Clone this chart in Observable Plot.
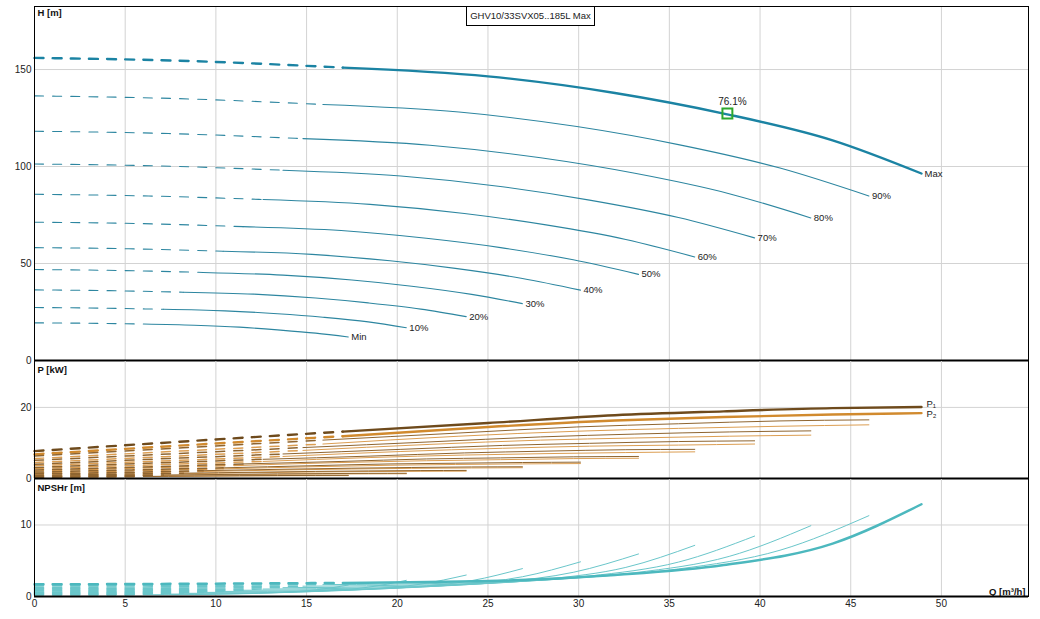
<!DOCTYPE html>
<html><head><meta charset="utf-8">
<script src="https://cdn.jsdelivr.net/npm/d3@7"></script>
<script src="https://cdn.jsdelivr.net/npm/@observablehq/plot@0.6"></script>
<style>
body{margin:0;background:#fff;font-family:"Liberation Sans",Arial,sans-serif;}
#chart{position:relative;width:1040px;height:619px;overflow:hidden;}
#chart svg{position:absolute;left:0;overflow:visible;background:transparent;}
#title{position:absolute;left:466px;top:6px;width:127px;height:18px;border:1px solid #000;background:#fff;font-size:9.5px;line-height:18px;text-align:center;color:#222;}
</style></head><body><div id="chart"><div id="title"></div></div>
<script>
// ---------- data ----------
const titleText = "GHV10/33SVX05..185L Max";
const speedLabels = ["Max","90%","80%","70%","60%","50%","40%","30%","20%","10%","Min"];
const minFlowIdx = 2; // point where the dashed (below min flow) part ends
const curveQ = [
  [0, 8.5, 17, 25, 32, 38, 44, 48.9],
  [0, 7.95, 15.9, 23.4, 29.9, 35.5, 41.1, 46.0],
  [0, 7.4, 14.8, 21.8, 27.9, 33.1, 38.3, 42.8],
  [0, 6.85, 13.7, 20.2, 25.8, 30.6, 35.5, 39.7],
  [0, 6.3, 12.6, 18.5, 23.7, 28.2, 32.6, 36.4],
  [0, 5.75, 11.5, 16.9, 21.6, 25.7, 29.7, 33.3],
  [0, 5.2, 10.4, 15.3, 19.6, 23.2, 26.9, 30.1],
  [0, 4.65, 9.3, 13.7, 17.5, 20.8, 24.1, 26.9],
  [0, 4.1, 8.2, 12.1, 15.5, 18.4, 21.3, 23.8],
  [0, 3.55, 7.1, 10.5, 13.4, 15.9, 18.4, 20.5],
  [0, 3.0, 6.0, 8.8, 11.3, 13.4, 15.5, 17.3]
];
const headH = [
  [156, 154.4, 151, 146.5, 137.9, 127.3, 113.5, 96.4],
  [136.4, 135.0, 132.0, 128.1, 120.6, 111.3, 99.2, 84.8],
  [118.2, 117.0, 114.4, 111.0, 104.5, 96.5, 86.0, 73.5],
  [101.3, 100.3, 98.1, 95.1, 89.6, 82.7, 73.7, 63.2],
  [85.7, 84.8, 83.0, 80.5, 75.8, 69.9, 62.4, 53.4],
  [71.3, 70.6, 69.0, 67.0, 63.0, 58.2, 51.9, 44.4],
  [58.2, 57.6, 56.3, 54.7, 51.4, 47.5, 42.3, 36.3],
  [46.9, 46.4, 45.4, 44.0, 41.5, 38.3, 34.1, 29.3],
  [36.4, 36.0, 35.2, 34.2, 32.2, 29.7, 26.5, 22.6],
  [27.3, 27.0, 26.4, 25.6, 24.1, 22.3, 19.9, 16.9],
  [19.4, 19.2, 18.8, 18.2, 17.2, 15.8, 14.1, 12.1]
];
const powerP1 = [
  [7.7, 10.5, 13.2, 15.6, 17.8, 18.9, 19.8, 20.1],
  [6.3, 8.6, 10.8, 12.8, 14.5, 15.4, 16.2, 16.5],
  [5.1, 6.9, 8.7, 10.3, 11.7, 12.5, 13.1, 13.4],
  [4.0, 5.5, 6.9, 8.2, 9.3, 9.9, 10.4, 10.6],
  [3.1, 4.3, 5.4, 6.3, 7.2, 7.7, 8.1, 8.2],
  [2.4, 3.2, 4.1, 4.8, 5.5, 5.8, 6.1, 6.2],
  [1.8, 2.4, 3.0, 3.6, 4.1, 4.3, 4.5, 4.6],
  [1.3, 1.7, 2.2, 2.6, 2.9, 3.1, 3.25, 3.3],
  [0.87, 1.18, 1.49, 1.76, 2.0, 2.13, 2.23, 2.27],
  [0.56, 0.77, 0.96, 1.14, 1.3, 1.38, 1.45, 1.47],
  [0.34, 0.46, 0.58, 0.69, 0.78, 0.83, 0.87, 0.88]
];
const powerP2 = [
  [6.8, 9.4, 11.9, 14.5, 16.3, 17.3, 18.0, 18.4],
  [5.6, 7.7, 9.7, 11.9, 13.3, 14.1, 14.7, 15.1],
  [4.5, 6.2, 7.9, 9.6, 10.8, 11.4, 11.9, 12.2],
  [3.6, 4.9, 6.2, 7.6, 8.5, 9.1, 9.4, 9.7],
  [2.8, 3.8, 4.8, 5.9, 6.6, 7.0, 7.3, 7.5],
  [2.1, 2.9, 3.7, 4.5, 5.0, 5.3, 5.6, 5.7],
  [1.55, 2.14, 2.71, 3.31, 3.72, 3.95, 4.11, 4.2],
  [1.12, 1.55, 1.96, 2.39, 2.68, 2.85, 2.96, 3.03],
  [0.77, 1.06, 1.34, 1.63, 1.84, 1.95, 2.03, 2.07],
  [0.5, 0.69, 0.87, 1.06, 1.19, 1.26, 1.31, 1.34],
  [0.3, 0.41, 0.52, 0.64, 0.72, 0.76, 0.79, 0.81]
];
const npshR = [
  [1.7, 1.78, 1.9, 2.15, 3.0, 4.4, 7.4, 12.9],
  [1.49, 1.56, 1.66, 1.88, 2.62, 3.85, 6.47, 11.3],
  [1.29, 1.35, 1.44, 1.63, 2.27, 3.33, 5.61, 9.9],
  [1.1, 1.16, 1.23, 1.4, 1.95, 2.86, 4.81, 8.45],
  [0.93, 0.98, 1.04, 1.18, 1.65, 2.42, 4.07, 7.15],
  [0.78, 0.81, 0.87, 0.98, 1.37, 2.01, 3.38, 5.95],
  [0.63, 0.66, 0.71, 0.8, 1.12, 1.64, 2.76, 4.85],
  [0.51, 0.54, 0.57, 0.65, 0.9, 1.32, 2.22, 3.9],
  [0.4, 0.42, 0.44, 0.5, 0.7, 1.03, 1.73, 3.0],
  [0.3, 0.31, 0.33, 0.38, 0.53, 0.77, 1.3, 2.26],
  [0.21, 0.22, 0.24, 0.27, 0.37, 0.55, 0.92, 1.6]
];
const bepQ = [38.2];
const bepH = [127.3];
const bepLabel = ["76.1%"];
const qTicks = [0, 5, 10, 15, 20, 25, 30, 35, 40, 45, 50];
const hTicks = [0, 50, 100, 150];
const pTicks = [0, 20];
const nTicks = [0, 10];
const powerLabels = ["P\u2081", "P\u2082"];

// ---------- table ----------
const rows = [];
speedLabels.forEach((label, k) => curveQ[k].forEach((q, i) => rows.push({
  k, label, i, q, h: headH[k][i], p1: powerP1[k][i], p2: powerP2[k][i], n: npshR[k][i]
})));
const dashRows = rows.filter(d => d.i <= minFlowIdx);
const solidRows = rows.filter(d => d.i >= minFlowIdx);
const ends = rows.filter(d => d.i === curveQ[d.k].length - 1);
const maxEnd = ends.filter(d => d.k === 0);
const bep = bepQ.map((q, j) => ({q, h: bepH[j], t: bepLabel[j]}));

const W = 1040, ML = 34, MR = 12;
const xDomain = [0, 54.8];
const dash = "9,9.14";
const FONT = "'Liberation Sans', Arial, sans-serif";
const grid = "#d3d3d3";

function curveSet(y, thinColor, thickColor, thinW, thickW, dashW) {
  const thin = d => d.k > 0, thick = d => d.k === 0;
  return [
    Plot.line(dashRows.filter(thin), {x: "q", y, z: "k", stroke: thinColor, strokeWidth: dashW ?? thinW, strokeDasharray: dash, curve: "monotone-x"}),
    Plot.line(solidRows.filter(thin), {x: "q", y, z: "k", stroke: thinColor, strokeWidth: thinW, curve: "monotone-x"}),
    Plot.line(dashRows.filter(thick), {x: "q", y, z: "k", stroke: thickColor, strokeWidth: thickW, strokeDasharray: dash, curve: "monotone-x"}),
    Plot.line(solidRows.filter(thick), {x: "q", y, z: "k", stroke: thickColor, strokeWidth: thickW, curve: "monotone-x"})
  ];
}

function panel({top, height, marginTop, marginBottom, yDomain, yTicks, title, titleDy, marks, xAxis, bottomW}) {
  const svg = Plot.plot({
    width: W, height, marginLeft: ML, marginRight: MR, marginTop, marginBottom,
    style: {fontFamily: FONT, fontSize: "10px", color: "#222", overflow: "visible", background: "transparent"},
    x: {domain: xDomain, axis: null, label: null},
    y: {domain: yDomain, axis: null, label: null},
    marks: [
      Plot.gridX(qTicks.filter(d => d > 0), {stroke: grid, strokeOpacity: 1}),
      Plot.gridY(yTicks.filter(d => d > 0), {stroke: grid, strokeOpacity: 1}),
      Plot.axisY(yTicks, {tickSize: 0, tickPadding: 3, label: null, fontSize: 10}),
      xAxis ? Plot.axisX(qTicks, {tickSize: 0, tickPadding: 3, label: null, fontSize: 10}) : null,
      ...marks,
      Plot.text([title], {frameAnchor: "top-left", textAnchor: "start", lineAnchor: "top", dx: 3, dy: titleDy, text: d => d, fontWeight: "bold", fontSize: 9.5, fill: "#111"}),
      Plot.frame({stroke: "#000", strokeWidth: 1}),
      Plot.ruleY([0], {stroke: "#000", strokeWidth: bottomW})
    ]
  });
  svg.style.top = top + "px";
  return svg;
}

const chart = document.getElementById("chart");
document.getElementById("title").textContent = titleText;

const pH = panel({
  top: 0, height: 360, marginTop: 6, marginBottom: 0, yDomain: [0, 182.5], yTicks: hTicks,
  title: "H [m]", titleDy: 3, bottomW: 2.2,
  marks: [
    ...curveSet("h", "#2d86a0", "#1b83a3", 1.1, 2.4),
    Plot.text(ends, {x: "q", y: "h", text: "label", textAnchor: "start", dx: 3, fontSize: 9.5, fill: "#222"}),
    Plot.dot(bep, {x: "q", y: "h", symbol: "square", r: 5.6, stroke: "#2ea82e", strokeWidth: 2, fill: "none"}),
    Plot.text(bep, {x: "q", y: "h", text: "t", dx: 5, dy: -12, fontSize: 10, fill: "#222"})
  ]
});
const pP = panel({
  top: 360, height: 118, marginTop: 0, marginBottom: 0, yDomain: [0, 33.2], yTicks: pTicks,
  title: "P [kW]", titleDy: 6, bottomW: 2.2,
  marks: [
    ...curveSet("p2", "#dc9e52", "#d18a2e", 1, 2.4, 1.5),
    ...curveSet("p1", "#8f6530", "#6e4a1c", 1, 2.4, 1.5),
    Plot.text(maxEnd, {x: "q", y: "p1", text: () => powerLabels[0], textAnchor: "start", dx: 5, dy: -3, fontSize: 9.5, fill: "#222"}),
    Plot.text(maxEnd, {x: "q", y: "p2", text: () => powerLabels[1], textAnchor: "start", dx: 5, dy: 1, fontSize: 9.5, fill: "#222"})
  ]
});
const pN = panel({
  top: 478, height: 141, marginTop: 0, marginBottom: 23, yDomain: [0, 16.5], yTicks: nTicks,
  title: "NPSHr [m]", titleDy: 6, bottomW: 1.8, xAxis: true,
  marks: [
    ...curveSet("n", "#6ac6ca", "#4cb8be", 1, 2.5, 1.6),
    Plot.text(["Q [m\u00b3/h]"], {frameAnchor: "bottom-right", textAnchor: "end", lineAnchor: "bottom", dx: -3, dy: -2, text: d => d, fontWeight: "bold", fontSize: 9.5, fill: "#111"})
  ]
});
chart.insertBefore(pH, chart.firstChild);
chart.insertBefore(pP, pH.nextSibling);
chart.insertBefore(pN, pP.nextSibling);
</script></body></html>
